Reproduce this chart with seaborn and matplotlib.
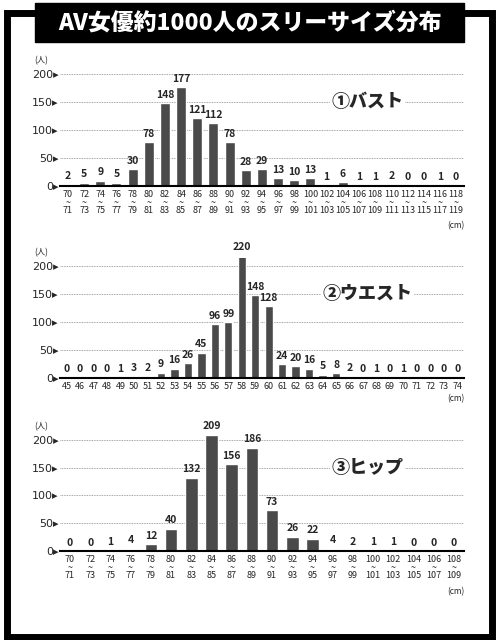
import matplotlib
matplotlib.use("Agg")
import matplotlib.pyplot as plt
import seaborn as sns
import pandas as pd
from matplotlib.patches import Rectangle

sns.set_theme(style="white")
plt.rcParams['font.family'] = ['Noto Sans CJK JP', 'DejaVu Sans']

bust_labels = [f"{a}\n~\n{a+1}" for a in range(70, 120, 2)]
bust_values = [2, 5, 9, 5, 30, 78, 148, 177, 121, 112, 78, 28, 29, 13, 10, 13, 1, 6, 1, 1, 2, 0, 0, 1, 0]
waist_labels = [str(a) for a in range(45, 75)]
waist_values = [0, 0, 0, 0, 1, 3, 2, 9, 16, 26, 45, 96, 99, 220, 148, 128, 24, 20, 16, 5, 8, 2, 0, 1, 0, 1, 0, 0, 0, 0]
hip_labels = [f"{a}\n~\n{a+1}" for a in range(70, 110, 2)]
hip_values = [0, 0, 1, 4, 12, 40, 132, 209, 156, 186, 73, 26, 22, 4, 2, 1, 1, 0, 0, 0]

title = "AV女優約1000人のスリーサイズ分布"
panels = [("①バスト", bust_labels, bust_values, 0.71),
          ("②ウエスト", waist_labels, waist_values, 0.41),
          ("③ヒップ", hip_labels, hip_values, 0.139)]

fig = plt.figure(figsize=(4.99, 6.4), dpi=100)
fig.patches.append(Rectangle((0.015, 0.005), 0.97, 0.975, transform=fig.transFigure,
                             fill=False, lw=5, ec="black"))
fig.patches.append(Rectangle((0.07, 0.935), 0.86, 0.06, transform=fig.transFigure,
                             fc="black", ec="black"))
fig.text(0.5, 0.964, title, color="white", ha="center", va="center",
         fontsize=16.5, fontweight="heavy")

for name, labels, values, y0 in panels:
    ax = fig.add_axes([0.12, y0, 0.81, 0.187])
    df = pd.DataFrame({"cat": labels, "n": values})
    sns.barplot(data=df, x="cat", y="n", ax=ax, color="#4a4a4a", width=0.62,
                saturation=1)
    for i, v in enumerate(values):
        ax.text(i, v + 6, str(v), ha="center", va="bottom", fontsize=7.5,
                fontweight="bold")
    ax.set_ylim(0, 215)
    ax.set_yticks([0, 50, 100, 150, 200])
    ax.set_yticklabels([f"{t}▸" for t in [0, 50, 100, 150, 200]], fontsize=8,
                       family=['DejaVu Sans'])
    for t in [50, 100, 150, 200]:
        ax.axhline(t, color="#888888", lw=0.6, ls=(0, (1, 1)), zorder=0)
    ax.set_xlabel("")
    ax.set_ylabel("")
    ax.tick_params(axis="x", labelsize=6.5, length=0, pad=3)
    for lab in ax.get_xticklabels():
        lab.set_linespacing(0.85)
    ax.tick_params(axis="y", length=0, pad=1)
    for s in ["top", "right", "left"]:
        ax.spines[s].set_visible(False)
    ax.spines["bottom"].set_color("black")
    ax.spines["bottom"].set_linewidth(1.5)
    ax.text(-0.03, 1.02, "(人)", transform=ax.transAxes, fontsize=6, ha="right")
    ax.text(1.0, -0.36 if "~" in labels[0] else -0.2, "(cm)", transform=ax.transAxes,
            fontsize=6, ha="right")
    ax.text(0.76, 0.7, name, transform=ax.transAxes, fontsize=13,
            fontweight="heavy", ha="center", va="center",
            bbox=dict(fc="white", ec="none", pad=1))

fig.savefig("out.png", dpi=100)
